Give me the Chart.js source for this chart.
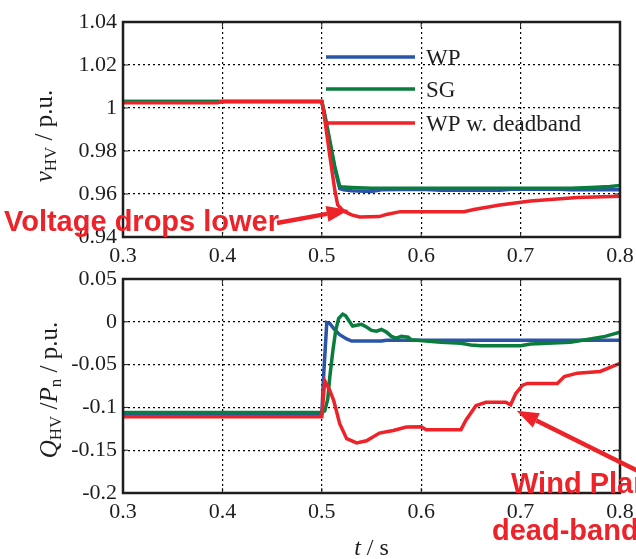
<!DOCTYPE html>
<html>
<head>
<meta charset="utf-8">
<script src="https://cdn.jsdelivr.net/npm/chart.js@4.4.1/dist/chart.umd.min.js"></script>
<style>
  html, body { margin: 0; padding: 0; background: #fff; }
  #wrap { position: relative; width: 636px; height: 559px; overflow: hidden; }
  canvas { position: absolute; left: 0; }
  #top { top: 0; }
  #bot { top: 261px; }
</style>
</head>
<body>
<div id="wrap">
  <canvas id="top" width="636" height="268"></canvas>
  <canvas id="bot" width="636" height="298"></canvas>
</div>
<script>
"use strict";

// ---- tick values ----
var xTickVals = [0.3, 0.4, 0.5, 0.6, 0.7, 0.8];
var vTickVals = [0.94, 0.96, 0.98, 1.0, 1.02, 1.04];
var qTickVals = [-0.2, -0.15, -0.1, -0.05, 0, 0.05];

// ---- top panel: v_HV (p.u.) ----
var vWpTime = [0.3, 0.5, 0.503, 0.508, 0.513, 0.518, 0.522, 0.53, 0.55, 0.56, 0.6, 0.62, 0.68, 0.69, 0.74, 0.75, 0.8];
var vWpVal  = [1.003, 1.003, 0.996, 0.984, 0.972, 0.9625, 0.962, 0.9615, 0.9612, 0.962, 0.9622, 0.9618, 0.9618, 0.9622, 0.9622, 0.962, 0.962];

var vSgTime = [0.3, 0.5, 0.503, 0.508, 0.513, 0.518, 0.522, 0.53, 0.55, 0.6, 0.65, 0.7, 0.75, 0.77, 0.79, 0.8];
var vSgVal  = [1.003, 1.003, 0.997, 0.985, 0.973, 0.9635, 0.9632, 0.963, 0.9627, 0.9627, 0.9627, 0.9627, 0.9627, 0.963, 0.9635, 0.964];

var vDbTime = [0.3, 0.395, 0.4, 0.5, 0.502, 0.508, 0.513, 0.516, 0.522, 0.53, 0.538, 0.558, 0.565, 0.579, 0.643, 0.653, 0.679, 0.71, 0.747, 0.757, 0.8];
var vDbVal  = [1.0025, 1.0025, 1.003, 1.003, 0.998, 0.978, 0.962, 0.9549, 0.952, 0.9503, 0.9493, 0.9495, 0.9505, 0.9518, 0.9518, 0.9528, 0.9549, 0.9567, 0.958, 0.9584, 0.959];

// ---- bottom panel: Q_HV / P_n (p.u.) ----
var qWpTime = [0.3, 0.5, 0.502, 0.505, 0.508, 0.512, 0.518, 0.525, 0.53, 0.56, 0.565, 0.8];
var qWpVal  = [-0.107, -0.107, -0.06, -0.001, -0.002, -0.008, -0.015, -0.02, -0.0225, -0.0225, -0.0215, -0.0215];

var qSgTime = [0.3, 0.5, 0.503, 0.506, 0.508, 0.511, 0.514, 0.517, 0.521, 0.524, 0.528, 0.531, 0.535, 0.54, 0.545, 0.55, 0.555, 0.56, 0.565, 0.57, 0.575, 0.58, 0.587, 0.59, 0.62, 0.64, 0.65, 0.66, 0.7, 0.71, 0.75, 0.77, 0.785, 0.8];
var qSgVal  = [-0.106, -0.106, -0.104, -0.09, -0.065, -0.035, -0.01, 0.004, 0.009, 0.007, 0.0, -0.005, -0.004, -0.003, -0.006, -0.01, -0.011, -0.009, -0.012, -0.017, -0.019, -0.017, -0.018, -0.021, -0.024, -0.025, -0.027, -0.028, -0.028, -0.026, -0.024, -0.02, -0.017, -0.012];

var qDbTime = [0.3, 0.5, 0.503, 0.508, 0.512, 0.518, 0.525, 0.535, 0.545, 0.558, 0.572, 0.585, 0.6, 0.605, 0.64, 0.645, 0.655, 0.665, 0.685, 0.69, 0.695, 0.702, 0.707, 0.737, 0.744, 0.757, 0.78, 0.795, 0.8];
var qDbVal  = [-0.111, -0.111, -0.069, -0.08, -0.092, -0.119, -0.1365, -0.1415, -0.139, -0.13, -0.127, -0.123, -0.1225, -0.126, -0.126, -0.115, -0.098, -0.094, -0.094, -0.097, -0.084, -0.074, -0.072, -0.072, -0.064, -0.06, -0.058, -0.051, -0.0485];

var BLUE = "#2a55a8", GREEN = "#0a7d3e", RED = "#ee2229";
var INK = "#1e1e1e";
var SERIF = "'Liberation Serif', 'DejaVu Serif', serif";
var SANS = "'Liberation Sans', Arial, sans-serif";

function pts(t, v) {
    return t.map(function (x, i) { return { x: x, y: v[i] }; });
}

function fmt(v) {
    return String(parseFloat(v.toFixed(2)));
}

function line(label, t, v, color) {
    return {
        label: label,
        data: pts(t, v),
        borderColor: color,
        backgroundColor: color,
        borderWidth: 3.5,
        pointRadius: 0,
        tension: 0,
        fill: false
    };
}

// draw a run of text pieces (italic / subscript) starting at x, baseline y
function richWidth(ctx, parts, size) {
    var w = 0;
    parts.forEach(function (p) {
        ctx.font = (p.it ? "italic " : "") + (p.sub ? Math.round(size * 0.68) : size) + "px " + SERIF;
        w += ctx.measureText(p.t).width;
    });
    return w;
}
function richDraw(ctx, parts, x, y, size) {
    parts.forEach(function (p) {
        ctx.font = (p.it ? "italic " : "") + (p.sub ? Math.round(size * 0.68) : size) + "px " + SERIF;
        ctx.fillText(p.t, x, p.sub ? y + size * 0.28 : y);
        x += ctx.measureText(p.t).width;
    });
}
function richRotated(ctx, parts, cx, cy, size) {
    ctx.save();
    ctx.translate(cx, cy);
    ctx.rotate(-Math.PI / 2);
    ctx.fillStyle = INK;
    ctx.textAlign = "left";
    ctx.textBaseline = "middle";
    var w = richWidth(ctx, parts, size);
    richDraw(ctx, parts, -w / 2, 0, size);
    ctx.restore();
}

function arrow(ctx, x0, y0, x1, y1) {
    var ang = Math.atan2(y1 - y0, x1 - x0);
    var hl = 22, hw = 8;
    var bx = x1 - hl * Math.cos(ang), by = y1 - hl * Math.sin(ang);
    ctx.save();
    ctx.strokeStyle = RED;
    ctx.fillStyle = RED;
    ctx.lineWidth = 4.5;
    ctx.beginPath();
    ctx.moveTo(x0, y0);
    ctx.lineTo(bx, by);
    ctx.stroke();
    ctx.beginPath();
    ctx.moveTo(x1, y1);
    ctx.lineTo(bx + hw * Math.sin(ang), by - hw * Math.cos(ang));
    ctx.lineTo(bx - hw * Math.sin(ang), by + hw * Math.cos(ang));
    ctx.closePath();
    ctx.fill();
    ctx.restore();
}

// frame + inward ticks round the plot area
function frame(chart) {
    var ctx = chart.ctx, a = chart.chartArea;
    var xs = chart.scales.x, ys = chart.scales.y;
    ctx.save();
    ctx.strokeStyle = INK;
    ctx.lineWidth = 1;
    ctx.beginPath();
    xs.ticks.forEach(function (t) {
        var px = xs.getPixelForValue(t.value);
        ctx.moveTo(px, a.bottom); ctx.lineTo(px, a.bottom - 5);
        ctx.moveTo(px, a.top); ctx.lineTo(px, a.top + 5);
    });
    ys.ticks.forEach(function (t) {
        var py = ys.getPixelForValue(t.value);
        ctx.moveTo(a.left, py); ctx.lineTo(a.left + 5, py);
        ctx.moveTo(a.right, py); ctx.lineTo(a.right - 5, py);
    });
    ctx.stroke();
    ctx.lineWidth = 2.5;
    ctx.strokeRect(a.left, a.top, a.right - a.left, a.bottom - a.top);
    ctx.restore();
}

function baseOptions(yMin, yMax, yTicks, xAxisHeight, padTop) {
    return {
        animation: false,
        responsive: false,
        devicePixelRatio: 1,
        layout: { padding: { left: 0, right: 16, top: padTop, bottom: 0 } },
        plugins: { legend: { display: false }, tooltip: { enabled: false } },
        scales: {
            x: {
                type: "linear",
                min: 0.3,
                max: 0.8,
                afterBuildTicks: function (s) {
                    s.ticks = xTickVals.map(function (v) { return { value: v }; });
                },
                afterFit: function (s) {
                    s.height = xAxisHeight;
                    s.paddingLeft = 0;
                    s.paddingRight = 0;
                },
                ticks: {
                    autoSkip: false,
                    maxRotation: 0,
                    padding: 6,
                    color: INK,
                    font: { family: SERIF, size: 22 },
                    callback: function (v) { return fmt(v); }
                },
                grid: { color: "#000", lineWidth: 1.2, drawTicks: false },
                border: { display: false, dash: [2, 3] }
            },
            y: {
                min: yMin,
                max: yMax,
                afterBuildTicks: function (s) {
                    s.ticks = yTicks.map(function (v) { return { value: v }; });
                },
                afterFit: function (s) {
                    s.width = 123;
                    s.paddingTop = 0;
                    s.paddingBottom = 0;
                },
                ticks: {
                    autoSkip: false,
                    padding: 6,
                    color: INK,
                    font: { family: SERIF, size: 22 },
                    callback: function (v) { return fmt(v); }
                },
                grid: { color: "#000", lineWidth: 1.2, drawTicks: false },
                border: { display: false, dash: [2, 3] }
            }
        }
    };
}

// ---- top chart ----
var topDecor = {
    id: "topDecor",
    afterDraw: function (chart) {
        var ctx = chart.ctx;
        var xs = chart.scales.x, ys = chart.scales.y;
        frame(chart);

        // legend in the upper middle of the plot
        var legend = [
            { name: "WP", color: BLUE, y: 57 },
            { name: "SG", color: GREEN, y: 89 },
            { name: "WP w. deadband", color: RED, y: 123 }
        ];
        ctx.save();
        legend.forEach(function (it) {
            ctx.strokeStyle = it.color;
            ctx.lineWidth = 3.5;
            ctx.beginPath();
            ctx.moveTo(326, it.y);
            ctx.lineTo(415, it.y);
            ctx.stroke();
            ctx.fillStyle = INK;
            ctx.font = "23px " + SERIF;
            ctx.textBaseline = "alphabetic";
            ctx.textAlign = "left";
            ctx.fillText(it.name, 426, it.y + 8);
        });
        ctx.restore();

        // y axis title
        richRotated(ctx, [{ t: "v", it: true }, { t: "HV", sub: true }, { t: " / p.u." }], 45, 136, 25);

        // annotation
        ctx.save();
        ctx.fillStyle = RED;
        ctx.font = "bold 29px " + SANS;
        ctx.textAlign = "left";
        ctx.textBaseline = "alphabetic";
        ctx.fillText("Voltage drops lower", 4, 231);
        ctx.restore();
        arrow(ctx, 277, 223, xs.getPixelForValue(0.527), ys.getPixelForValue(0.9526));
    }
};

new Chart(document.getElementById("top"), {
    type: "line",
    data: {
        datasets: [
            line("WP w. deadband", vDbTime, vDbVal, RED),
            line("SG", vSgTime, vSgVal, GREEN),
            line("WP", vWpTime, vWpVal, BLUE)
        ]
    },
    options: baseOptions(0.94, 1.04, vTickVals, 31, 22),
    plugins: [topDecor]
});

// ---- bottom chart ----
var botDecor = {
    id: "botDecor",
    afterDraw: function (chart) {
        var ctx = chart.ctx;
        var xs = chart.scales.x, ys = chart.scales.y;
        var a = chart.chartArea;
        frame(chart);

        // y axis title
        richRotated(ctx, [
            { t: "Q", it: true }, { t: "HV", sub: true }, { t: " /" },
            { t: "P", it: true }, { t: "n", sub: true }, { t: " / p.u." }
        ], 50, 129, 25);

        // x axis title
        ctx.save();
        ctx.fillStyle = INK;
        ctx.textBaseline = "alphabetic";
        var parts = [{ t: "t", it: true }, { t: " / s" }];
        var w = richWidth(ctx, parts, 24);
        richDraw(ctx, parts, (a.left + a.right) / 2 - w / 2, 294, 24);
        ctx.restore();

        // annotation
        arrow(ctx, 660, 221, xs.getPixelForValue(0.696), ys.getPixelForValue(-0.1038));
        ctx.save();
        ctx.fillStyle = RED;
        ctx.font = "bold 29px " + SANS;
        ctx.textAlign = "left";
        ctx.textBaseline = "alphabetic";
        ctx.fillText("Wind Plant", 511, 232);
        ctx.fillText("dead-band", 492, 279);
        ctx.restore();
    }
};

new Chart(document.getElementById("bot"), {
    type: "line",
    data: {
        datasets: [
            line("WP w. deadband", qDbTime, qDbVal, RED),
            line("SG", qSgTime, qSgVal, GREEN),
            line("WP", qWpTime, qWpVal, BLUE)
        ]
    },
    options: baseOptions(-0.2, 0.05, qTickVals, 66, 18),
    plugins: [botDecor]
});
</script>
</body>
</html>
